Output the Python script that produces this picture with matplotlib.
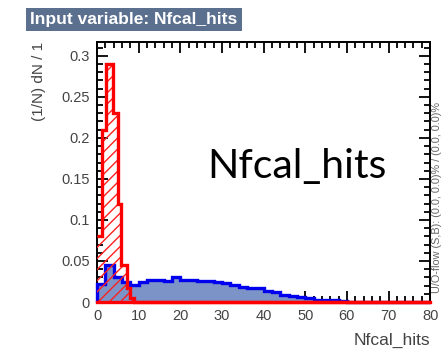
import numpy as np
import matplotlib
matplotlib.use("Agg")
import matplotlib.pyplot as plt
from matplotlib.ticker import MultipleLocator

# signal (red, hatched): bin edges and normalised heights
red_edges = [0, 1.2, 2.2, 3.9, 5.0, 5.8, 7.3, 8.0, 9.0, 80]
red_vals = [0.08, 0.21, 0.29, 0.23, 0.12, 0.045, 0.017, 0.005, 0.0]

# background (blue, filled): 2-unit bins from 0 to 80
blue_edges = np.arange(0, 82, 2)
blue_vals = [0.022, 0.045, 0.031, 0.024, 0.021, 0.024, 0.027, 0.027, 0.026, 0.030,
             0.027, 0.027, 0.026, 0.026, 0.025, 0.023, 0.021, 0.018, 0.017, 0.017,
             0.013, 0.012, 0.009, 0.007, 0.006, 0.005, 0.003, 0.003, 0.003, 0.001,
             0, 0, 0, 0, 0, 0, 0, 0, 0, 0]

x_ticks = [0, 10, 20, 30, 40, 50, 60, 70, 80]
y_ticks = [0, 0.05, 0.1, 0.15, 0.2, 0.25, 0.3]
y_tick_labels = ["0", "0.05", "0.1", "0.15", "0.2", "0.25", "0.3"]

plt.rcParams["font.family"] = ["Liberation Sans", "DejaVu Sans"]

fig = plt.figure(figsize=(4.43, 3.52), dpi=100)
ax = fig.add_axes([0.219, 0.142, 0.752, 0.739])

# background histogram
ax.stairs(blue_vals, blue_edges, fill=True, color="#7b93c6", zorder=2)
ax.stairs(blue_vals, blue_edges, color="#0000ee", linewidth=2.4, zorder=3,
          clip_on=False)

# signal histogram
ax.stairs(red_vals, red_edges, fill=True, facecolor="none", edgecolor="#ff2020",
          hatch="///", linewidth=0, zorder=4)
ax.stairs(red_vals, red_edges, color="#ff0000", linewidth=2.4, zorder=5,
          clip_on=False, baseline=None)
ax.plot([0, 80], [0, 0], color="#ff0000", linewidth=2.4, zorder=5, clip_on=False)

ax.set_xlim(0, 80)
ax.set_ylim(0, 0.317)

ax.set_xticks(x_ticks)
ax.set_xticklabels([str(t) for t in x_ticks])
ax.set_yticks(y_ticks)
ax.set_yticklabels(y_tick_labels)
ax.xaxis.set_minor_locator(MultipleLocator(2))
ax.yaxis.set_minor_locator(MultipleLocator(0.01))
ax.tick_params(which="both", direction="in", top=True, right=True,
               labelsize=10.5, colors="black", labelcolor="#444444", width=1.3)
ax.tick_params(which="major", length=8, pad=5)
ax.tick_params(which="minor", length=4)
for s in ax.spines.values():
    s.set_linewidth(1.4)

ax.set_ylabel("(1/N) dN / 1", fontsize=11, color="#444444", loc="top", labelpad=11)
ax.set_xlabel("Nfcal_hits", fontsize=12.5, color="#444444", loc="right", labelpad=7)

ax.text(0.60, 0.52, "Nfcal_hits", transform=ax.transAxes, fontsize=29.5,
        family=["Lato", "DejaVu Sans"], ha="center", va="center", color="black")

fig.text(0.068, 0.945, "Input variable: Nfcal_hits", fontsize=12.5, fontweight="bold",
         color="white", ha="left", va="center",
         bbox=dict(boxstyle="square,pad=0.25", facecolor="#5b6f8f", edgecolor="none"))

# under/overflow note along the right edge
fig.text(0.9865, 0.44, "U/O-flow (S,B): (0.0, 0.0)% / (0.0, 0.0)%", fontsize=7.8,
         color="#666666", rotation=90, ha="center", va="center")

fig.savefig("out.png", dpi=100)
